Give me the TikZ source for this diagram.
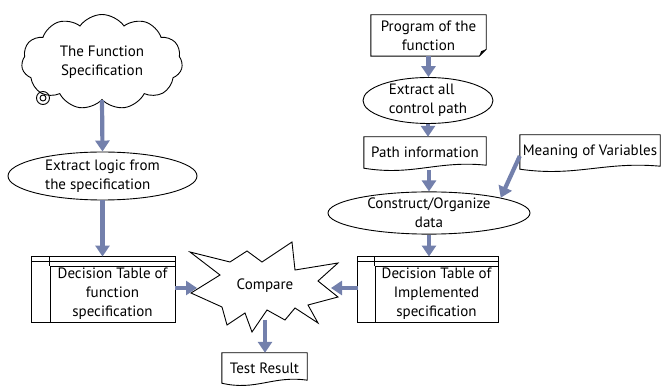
\documentclass[tikz,border=0pt]{standalone}
\usepackage{fontspec}
\setmainfont{PT Sans}
\usetikzlibrary{shapes.geometric, shapes.symbols, arrows.meta, calc}
\definecolor{pfeilblau}{RGB}{115,128,172}

% Rand eines Dokuments (unten gewellt)
\newcommand{\blattrand}[1]{%
	\draw[linie] (#1.north west) -- (#1.south west) .. controls ($(#1.south west)!0.4!(#1.south east)+(0,8)$)
		and ($(#1.south west)!0.6!(#1.south east)+(0,-8)$) .. ($(#1.south east)+(0,-3)$) -- (#1.north east) -- cycle;}

\begin{document}
\begin{tikzpicture}[x = 1pt, y = -1pt]
		\tikzstyle{every node} = [font = \fontsize{15}{19}\selectfont, align = center, inner sep = 0pt]
		\tikzstyle{linie} = [draw = black, line width = 0.9pt]
		\tikzstyle{oval} = [linie, ellipse]
		\tikzstyle{tabelle} = [linie, minimum height = 56pt]
		\tikzstyle{pfeil} = [draw = pfeilblau, line width = 4.2pt, -{Triangle[width = 14pt, length = 11pt]}]

\useasboundingbox (0,0) rectangle (662,387);

% Wolke
\node[linie, cloud, cloud puffs = 11, cloud puff arc = 110, cloud ignores aspect, minimum width = 161pt, minimum height = 95pt]
	(wolke) at (102,62) {The Function\\Specification};
\draw[linie] (43,98) circle (6.5pt) (43,98) circle (3pt);

% Ellipsen
\node[oval, minimum width = 189pt, minimum height = 48pt, align = left] (logik) at (102.5,176) {Extract logic from\\the specification};
\node[oval, minimum width = 130pt, minimum height = 43pt, align = left] (pfade) at (428,100.5) {Extract all\\control path};
\node[oval, minimum width = 202pt, minimum height = 40pt] (ordnen) at (429,213) {Construct/Organize\\data};

% Programm
\node[minimum width = 115pt, minimum height = 41pt] (programm) at (428.5,35.5) {Program of the\\function};
\draw[linie] (programm.north west) -- (programm.south west) -- ($(programm.south east)+(-7,0)$) --
	($(programm.south east)+(0,-7)$) -- (programm.north east) -- cycle;
\fill ($(programm.south east)+(-7,0)$) -- ($(programm.south east)+(0,-7)$) -- ($(programm.south east)+(-5,-5)$) -- cycle;

% Dokumente
\node[minimum width = 122pt, minimum height = 31pt] (pfadinfo) at (425,152.5) {Path information};
\blattrand{pfadinfo}
\node[minimum width = 140pt, minimum height = 34pt] (variablen) at (590,152) {Meaning of Variables};
\blattrand{variablen}
\node[minimum width = 85pt, minimum height = 30pt] (ergebnis) at (264.5,368) {Test Result};
\blattrand{ergebnis}

% Entscheidungstabellen
\node[tabelle, minimum width = 125pt] (tabfunktion) at (112.5,294) {Decision Table of\\function\\specification};
\draw[linie] (tabfunktion.south west) -- ++(-18,0) |- ($(tabfunktion.north east)+(0,-9)$) -- (tabfunktion.north east);
\draw[linie] ($(tabfunktion.north west)+(-18,-4.5)$) -- ($(tabfunktion.north east)+(0,-4.5)$);
\draw[linie] (tabfunktion.north west) -- ++(0,-9);
\node[tabelle, minimum width = 123pt] (tabimpl) at (436.5,294) {Decision Table of\\Implemented\\specification};
\draw[linie] (tabimpl.south west) -- ++(-17,0) |- ($(tabimpl.north east)+(0,-9)$) -- (tabimpl.north east);
\draw[linie] ($(tabimpl.north west)+(-17,-4.5)$) -- ($(tabimpl.north east)+(0,-4.5)$);
\draw[linie] (tabimpl.north west) -- ++(0,-9);

% Explosion
\draw[linie, fill = white]
	(190,252) -- (230,262) -- (247,251) -- (262,262) -- (292,242) -- (295,270) -- (338,263) -- (318,281) --
	(338,297) -- (308,305) -- (318,323) -- (295,308) -- (285,320) -- (267,310) -- (252,332) -- (245,313) --
	(227,325) -- (222,307) -- (191,293) -- (220,275) -- cycle;
\node (vergleich) at (265,286) {Compare};
\coordinate (vglinks) at (197,288);
\coordinate (vglrechts) at (331,288);
\coordinate (vglunten) at (265,320);

% Pfeile
\draw[pfeil] (wolke.south) -- (logik.north);
\draw[pfeil, shorten > = 9pt] (logik.south) -- (logik.south |- tabfunktion.north);
\draw[pfeil] ([yshift = 6pt]tabfunktion.east) -- (vglinks);
\draw[pfeil] (vglunten) -- (vglunten |- ergebnis.north);
\draw[pfeil] (programm.south) -- (programm.south |- pfade.north);
\draw[pfeil] (pfade.south) -- (pfade.south |- pfadinfo.north);
\draw[pfeil, shorten < = 2pt] (ordnen.north |- pfadinfo.south) -- (ordnen.north);
\draw[pfeil] ([yshift = -4pt]variablen.west) -- (ordnen.north east);
\draw[pfeil, shorten > = 9pt] (ordnen.south) -- (ordnen.south |- tabimpl.north);
\draw[pfeil, shorten < = 17pt] ([yshift = 6pt]tabimpl.west) -- (vglrechts);

	\end{tikzpicture}
\end{document}
